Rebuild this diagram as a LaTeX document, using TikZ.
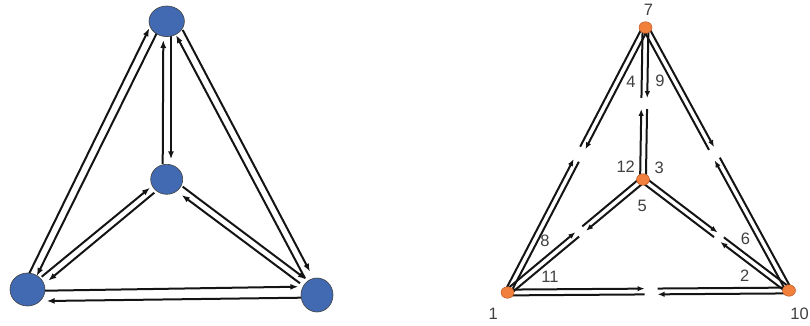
\documentclass[tikz,border=0pt]{standalone}
\usepackage{fontspec}
\setmainfont{Liberation Sans}
\usetikzlibrary{calc,shapes.geometric,arrows.meta,backgrounds}
\definecolor{nblue}{RGB}{66,106,178}
\definecolor{orng}{RGB}{240,128,60}
\definecolor{odraw}{RGB}{190,90,40}
\tikzset{
  bnode/.style={ellipse, draw=black!75, line width=0.6pt, fill=nblue, inner sep=0pt},
  onode/.style={ellipse, draw=odraw, line width=0.5pt, fill=orng, minimum width=13pt, minimum height=11.5pt, inner sep=0pt},
  edge/.style={line width=2pt, draw=black!92},
  larr/.style={-{Latex[length=8pt,width=6pt]}},
  rarr/.style={-{Latex[length=7pt,width=5.5pt]}},
  lab/.style={font=\fontsize{16.5}{19}\selectfont, text=black!75, inner sep=0pt},
}
\newcommand\lline[4]{\draw[edge,larr] ($(#1)+#2$) -- ($(#3)+#4$);}
\def\ro{2.9pt}
\newcommand\rpair[4]{%
  \path ($(#1)!\ro!90:(#2)$) coordinate (sA) ($(#2)!\ro!-90:(#1)$) coordinate (eA)
        ($(#2)!\ro!90:(#1)$) coordinate (sB) ($(#1)!\ro!-90:(#2)$) coordinate (eB);
  \pgfmathsetmacro\cB{1-#3}
  \path ($(sA)!#3!(eA)$) coordinate (gA) ($(sB)!\cB!(eB)$) coordinate (gB);
  \draw[edge,rarr,shorten >=#4] (sA) -- (gA);
  \draw[edge,shorten <=#4] (gA) -- (eA);
  \draw[edge,rarr,shorten >=#4] (sB) -- (gB);
  \draw[edge,shorten <=#4] (gB) -- (eB);
}
\begin{document}
\begin{tikzpicture}[x=1pt,y=-1pt]
\useasboundingbox (0,0) rectangle (810,326);
% left diagram nodes
\node[bnode, minimum width=35.4pt, minimum height=30.6pt] (top) at (166.7,21.3) {};
\node[bnode, minimum width=32pt, minimum height=30pt] (mid) at (166.7,179.3) {};
\node[bnode, minimum width=35pt, minimum height=33pt] (bl) at (27.5,289.5) {};
\node[bnode, minimum width=32pt, minimum height=34pt] (br) at (317,295) {};
% right diagram nodes
\node[onode] (n7) at (645.5,27.5) {};
\node[onode] (n3) at (643,179.5) {};
\node[onode] (n1) at (507.5,292.5) {};
\node[onode] (n10) at (789,290.5) {};
% labels
\node[lab] (l7) at (648.5,10) {7};
\node[lab] (l4) at (631,81.7) {4};
\node[lab] (l9) at (660,81) {9};
\node[lab] (l12) at (625.7,166.7) {12};
\node[lab] (l3) at (659.3,168) {3};
\node[lab] (l5) at (642.3,205.7) {5};
\node[lab] (l8) at (545,240.7) {8};
\node[lab] (l11) at (550,276.5) {11};
\node[lab] (l6) at (745.5,239.3) {6};
\node[lab] (l2) at (744.7,276) {2};
\node[lab] (l1) at (493.3,313.5) {1};
\node[lab] (l10) at (799.5,313.5) {10};
\begin{pgfonlayer}{background}
\lline{bl}{(1.8,-16.2)}{top}{(-17.4,7)}
\lline{top}{(-10,12)}{bl}{(9.2,-13.5)}
\lline{mid}{(-4,-15.3)}{top}{(-3.4,18.7)}
\lline{top}{(4.3,15)}{mid}{(4.3,-20)}
\lline{top}{(16,8.7)}{br}{(-7,-23.3)}
\lline{br}{(-12,-16.7)}{top}{(9.3,13.7)}
\lline{bl}{(14.2,-12.8)}{mid}{(-16.7,8.4)}
\lline{mid}{(-12.4,13.4)}{bl}{(20.8,-8.8)}
\lline{mid}{(16,7.4)}{br}{(-11,-15.7)}
\lline{br}{(-17,-11.7)}{mid}{(15,15.7)}
\lline{bl}{(17.5,1.2)}{br}{(-18.7,-8.3)}
\lline{br}{(-16,2.7)}{bl}{(19.2,11.5)}
\rpair{n7}{n3}{0.5}{5.5pt}
\rpair{n7}{n1}{0.478}{7pt}
\rpair{n7}{n10}{0.48}{6pt}
\rpair{n3}{n1}{0.46}{4.5pt}
\rpair{n3}{n10}{0.52}{4pt}
\rpair{n1}{n10}{0.51}{6.5pt}
\end{pgfonlayer}
\end{tikzpicture}
\end{document}
